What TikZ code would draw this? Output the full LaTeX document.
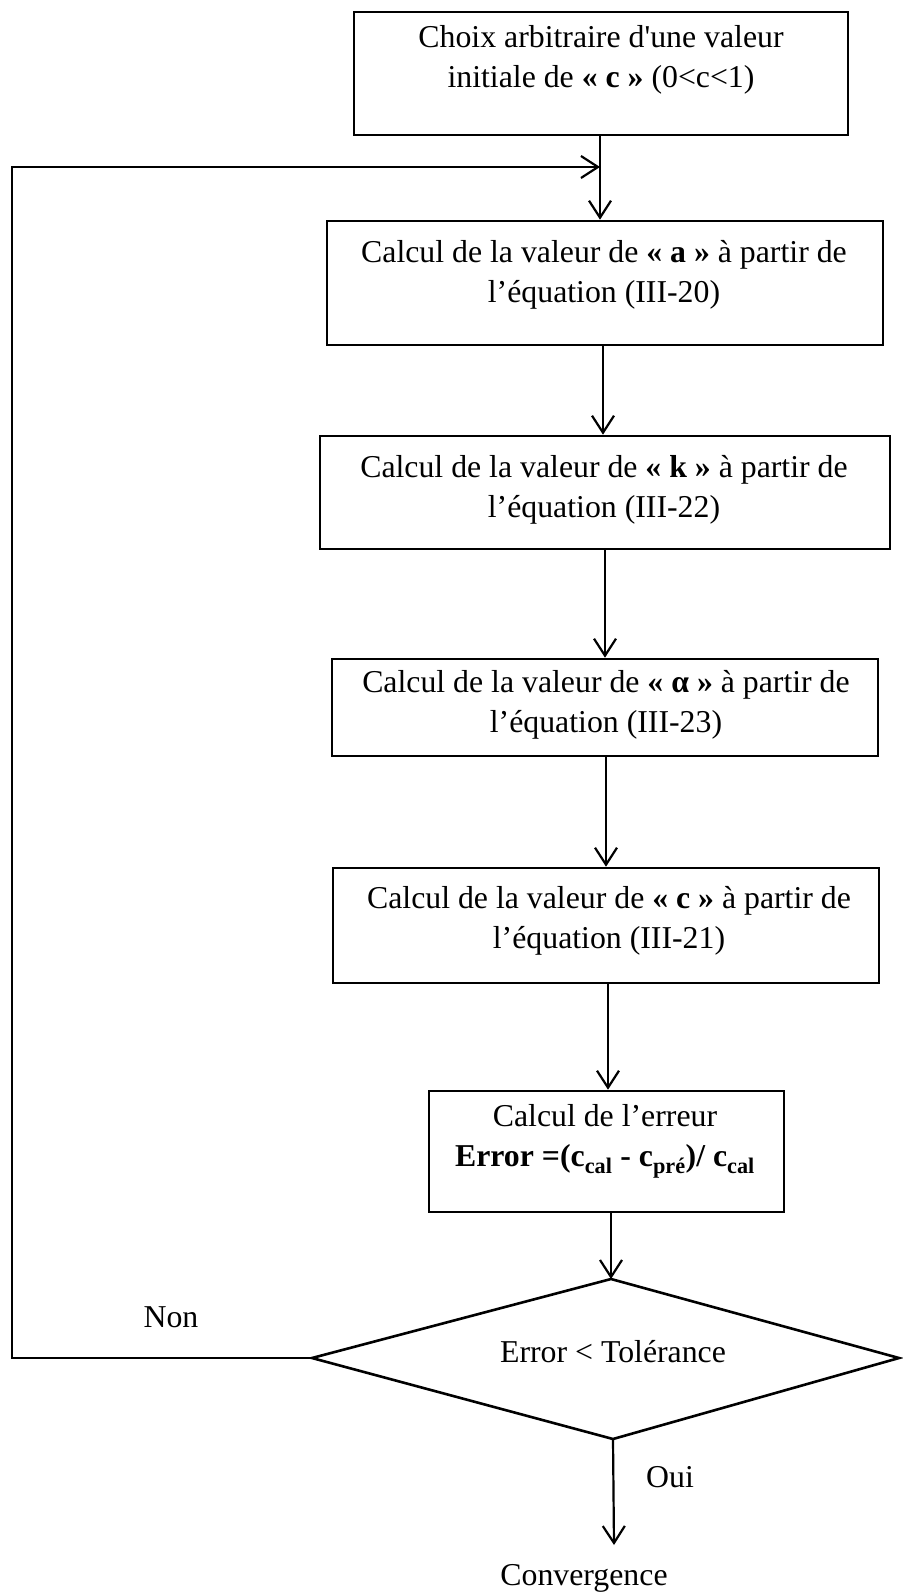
\documentclass[tikz,border=0pt]{standalone}
\usepackage{fontspec}
\setmainfont{Liberation Serif}
\usetikzlibrary{arrows.meta}
\begin{document}
\begin{tikzpicture}[x=1pt,y=-1pt,
  every node/.style={font=\fontsize{31.8pt}{40pt}\selectfont},
  boxshape/.style={draw, line width=2.6pt, inner sep=0pt},
  txt/.style={align=center, inner sep=0pt},
  conn/.style={line width=2.2pt, -{Straight Barb[length=17pt,width=22pt,line width=2.2pt]}},
  dshape/.style={line width=2.6pt, line join=miter}
]
\path[use as bounding box] (0,0) rectangle (902,1594);

% boxes (empty frames)
\node[boxshape, minimum width=494pt, minimum height=123pt] (b1) at (601,73.5) {};
\node[boxshape, minimum width=556pt, minimum height=124pt] (b2) at (605,283) {};
\node[boxshape, minimum width=570pt, minimum height=113pt] (b3) at (605,492.5) {};
\node[boxshape, minimum width=546pt, minimum height=97pt] (b4) at (605,707.5) {};
\node[boxshape, minimum width=546pt, minimum height=115pt] (b5) at (606,925.5) {};
\node[boxshape, minimum width=355pt, minimum height=121pt] (be) at (606.5,1151.5) {};

% texts
\node[txt] (t1) at (601,60) {Choix arbitraire d\textquotesingle une valeur\\initiale de \textbf{«~c~»} (0<c<1)};
\node[txt] (t2) at (604,275) {Calcul de la valeur de \textbf{«~a~»} à partir de\\l’équation (III-20)};
\node[txt] (t3) at (604,490) {Calcul de la valeur de \textbf{«~k~»} à partir de\\l’équation (III-22)};
\node[txt] (t4) at (606,705) {Calcul de la valeur de \textbf{«~α~»} à partir de\\l’équation (III-23)};
\node[txt] (t5) at (609,921) {Calcul de la valeur de \textbf{«~c~»} à partir de\\l’équation (III-21)};
\node[txt] (te) at (605,1141) {Calcul de l’erreur\\\textbf{Error =(c\textsubscript{cal} - c\textsubscript{pré})/ c\textsubscript{cal}}};

% decision
\coordinate (dl) at (312,1358);
\coordinate (dt) at (611,1279);
\coordinate (dr) at (899,1358);
\coordinate (db) at (613,1439);
\draw[dshape] (dl) -- (dt) -- (dr) -- (db) -- cycle;
\node[txt] (td) at (613,1352) {Error < Tolérance};

% labels
\node[txt] (non) at (171,1317) {Non};
\node[txt] (oui) at (670,1477) {Oui};
\node[txt] (conv) at (584,1578) {Convergence};

% arrow x positions
\coordinate (a1) at (600,0);
\coordinate (a2) at (603,0);
\coordinate (a3) at (605,0);
\coordinate (a4) at (606,0);
\coordinate (a5) at (608,0);
\coordinate (a6) at (611,0);
\coordinate (end) at (614,1545);
\coordinate (lpA) at (12,1358);
\coordinate (lpB) at (12,167);
\coordinate (lpC) at (600,167);

\draw[conn] (b1.south -| a1) -- (b2.north -| a1);
\draw[conn] (b2.south -| a2) -- (b3.north -| a2);
\draw[conn] (b3.south -| a3) -- (b4.north -| a3);
\draw[conn] (b4.south -| a4) -- (b5.north -| a4);
\draw[conn] (b5.south -| a5) -- (be.north -| a5);
\draw[conn] (be.south -| a6) -- (dt);
\draw[conn] (db) -- (end);
\draw[conn] (dl) -- (lpA) -- (lpB) -- (lpC);
\end{tikzpicture}
\end{document}
